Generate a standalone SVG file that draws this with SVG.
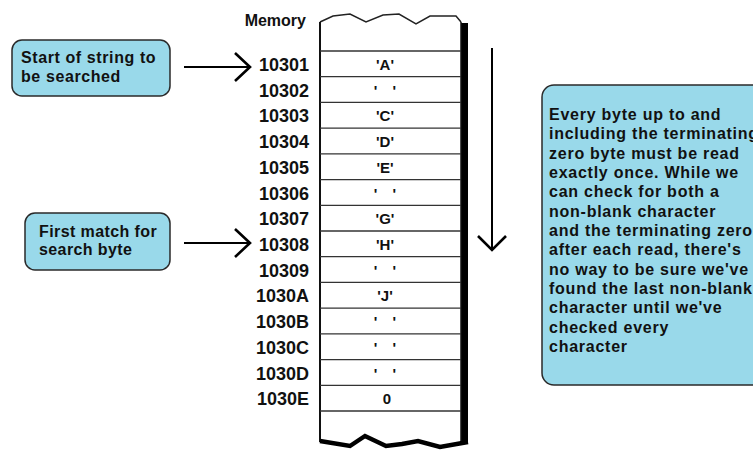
<svg xmlns="http://www.w3.org/2000/svg" width="753" height="451" viewBox="0 0 753 451">
<style>
text{font-family:"Liberation Sans",Arial,sans-serif;font-weight:bold;fill:#111}
.box{fill:#99D9EA;stroke:#2a2a2a;stroke-width:1.5}
.bt{font-size:16px;letter-spacing:0.6px}
.rt{font-size:16px;letter-spacing:0.75px}
.addr{font-size:18px;text-anchor:end}
.val{font-size:15px;text-anchor:middle}
.blank{word-spacing:11px}
.row{stroke:#333;stroke-width:1.3}
.arr{stroke:#000;stroke-width:2;fill:none}
.chev{stroke:#000;stroke-width:2.6;fill:none;stroke-linejoin:miter}
</style>
<rect width="753" height="451" fill="#fff"/>
<g id="memory">
<text x="306" y="26" style="font-size:16px;text-anchor:end">Memory</text>
<rect x="461" y="23" width="7" height="420" fill="#000"/>
<path d="M320,22 L333,16 L350,14 L366,22 L383,15 L399,14 L416,24 L430,16 L456,16 L461,22" fill="none" stroke="#222" stroke-width="1.5"/>
<line x1="320" y1="22" x2="320" y2="442" stroke="#111" stroke-width="2"/>
<line x1="461" y1="22" x2="461" y2="442" stroke="#111" stroke-width="1.5"/>
<path d="M320,441 L350,446 L365,436 L386,446 L402,444 L418,441 L440,447 L468,442" fill="none" stroke="#000" stroke-width="4.5"/>
<g class="row">
<line x1="320" y1="51" x2="461" y2="51"/>
<line x1="320" y1="76.7" x2="461" y2="76.7"/>
<line x1="320" y1="102.4" x2="461" y2="102.4"/>
<line x1="320" y1="128.1" x2="461" y2="128.1"/>
<line x1="320" y1="153.9" x2="461" y2="153.9"/>
<line x1="320" y1="179.6" x2="461" y2="179.6"/>
<line x1="320" y1="205.3" x2="461" y2="205.3"/>
<line x1="320" y1="231" x2="461" y2="231"/>
<line x1="320" y1="256.7" x2="461" y2="256.7"/>
<line x1="320" y1="282.4" x2="461" y2="282.4"/>
<line x1="320" y1="308.1" x2="461" y2="308.1"/>
<line x1="320" y1="333.9" x2="461" y2="333.9"/>
<line x1="320" y1="359.6" x2="461" y2="359.6"/>
<line x1="320" y1="385.3" x2="461" y2="385.3"/>
<line x1="320" y1="411" x2="461" y2="411"/>
</g>
<g>
<text class="addr" x="309" y="71">10301</text>
<text class="addr" x="309" y="96.7">10302</text>
<text class="addr" x="309" y="122.4">10303</text>
<text class="addr" x="309" y="148.1">10304</text>
<text class="addr" x="309" y="173.9">10305</text>
<text class="addr" x="309" y="199.6">10306</text>
<text class="addr" x="309" y="225.3">10307</text>
<text class="addr" x="309" y="251">10308</text>
<text class="addr" x="309" y="276.7">10309</text>
<text class="addr" x="309" y="302.4">1030A</text>
<text class="addr" x="309" y="328.1">1030B</text>
<text class="addr" x="309" y="353.9">1030C</text>
<text class="addr" x="309" y="379.6">1030D</text>
<text class="addr" x="309" y="405.3">1030E</text>
</g>
<g>
<text class="val" x="385" y="70">'A'</text>
<text class="val blank" x="385" y="95.7" xml:space="preserve">' '</text>
<text class="val" x="385" y="121.4">'C'</text>
<text class="val" x="385" y="147.1">'D'</text>
<text class="val" x="385" y="172.9">'E'</text>
<text class="val blank" x="385" y="198.6" xml:space="preserve">' '</text>
<text class="val" x="385" y="224.3">'G'</text>
<text class="val" x="385" y="250">'H'</text>
<text class="val blank" x="385" y="275.7" xml:space="preserve">' '</text>
<text class="val" x="385" y="301.4">'J'</text>
<text class="val blank" x="385" y="327.1" xml:space="preserve">' '</text>
<text class="val blank" x="385" y="352.9" xml:space="preserve">' '</text>
<text class="val blank" x="385" y="378.6" xml:space="preserve">' '</text>
<text class="val" x="387" y="404.3">0</text>
</g>
</g>
<g id="start-box">
<rect class="box" x="12" y="40" width="158" height="56" rx="10"/>
<text class="bt" x="21" y="63">Start of string to</text>
<text class="bt" x="21" y="82">be searched</text>
</g>
<g id="match-box">
<rect class="box" x="25" y="213" width="145" height="57" rx="10"/>
<text class="bt" x="39" y="237" style="letter-spacing:0.4px">First match for</text>
<text class="bt" x="39" y="255" style="letter-spacing:0.4px">search byte</text>
</g>
<g id="note-box">
<rect class="box" x="542" y="85" width="240" height="300" rx="12"/>
<text class="rt" x="549" y="120">Every byte up to and</text>
<text class="rt" x="549" y="139.3">including the terminating</text>
<text class="rt" x="549" y="158.7">zero byte must be read</text>
<text class="rt" x="549" y="178">exactly once. While we</text>
<text class="rt" x="549" y="197.3">can check for both a</text>
<text class="rt" x="549" y="216.7">non-blank character</text>
<text class="rt" x="549" y="236">and the terminating zero</text>
<text class="rt" x="549" y="255.3">after each read, there's</text>
<text class="rt" x="549" y="274.7">no way to be sure we've</text>
<text class="rt" x="549" y="294">found the last non-blank</text>
<text class="rt" x="549" y="313.3">character until we've</text>
<text class="rt" x="549" y="332.7">checked every</text>
<text class="rt" x="549" y="352">character</text>
</g>
<g id="connectors">
<line class="arr" x1="184" y1="67" x2="250" y2="67"/>
<polyline class="chev" points="235,53 250,67 235,81"/>
<line class="arr" x1="184" y1="243" x2="250" y2="243"/>
<polyline class="chev" points="235,229 250,243 235,257"/>
<line class="arr" x1="492" y1="48" x2="492" y2="249"/>
<polyline class="chev" points="478,236 492,250 506,236"/>
</g>
</svg>
